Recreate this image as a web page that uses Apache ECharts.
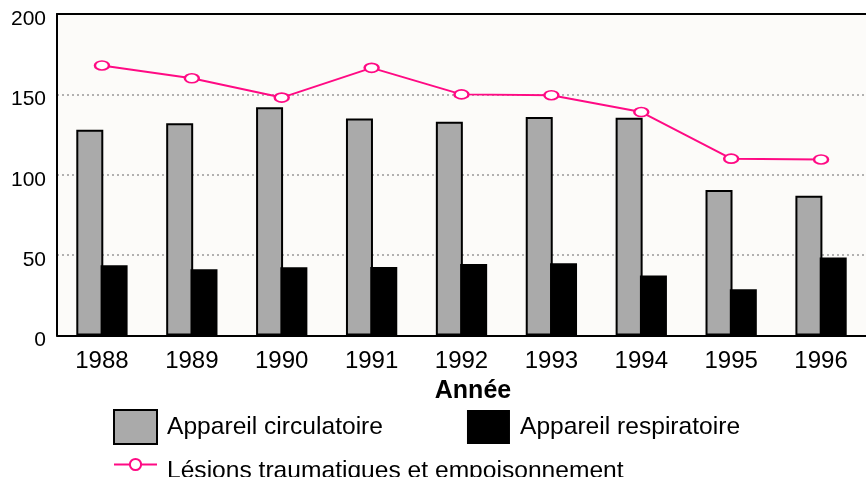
<!DOCTYPE html>
<html>
<head>
<meta charset="utf-8">
<script src="https://cdn.jsdelivr.net/npm/echarts@6/dist/echarts.min.js"></script>
<style>
  html, body { margin: 0; padding: 0; background: #fff; }
  #chart { width: 866px; height: 477px; }
</style>
</head>
<body>
<div id="chart"></div>
<script>
const years = ['1988', '1989', '1990', '1991', '1992', '1993', '1994', '1995', '1996']
const circulatoire = [128, 132, 142, 135, 133, 136, 135.5, 90.5, 87]
const respiratoire = [43.7, 41.2, 42.4, 42.6, 44.5, 45, 37.4, 28.7, 48.6]
const lesions = [168, 160, 148, 166.5, 150, 149.5, 139, 110, 109.5]

const font = 'Liberation Sans, Arial, sans-serif'
const pink = '#ff0a84'

const chart = echarts.init(document.getElementById('chart'))
chart.setOption({
  animation: false,
  backgroundColor: '#fff',
  textStyle: { fontFamily: font, color: '#000' },
  grid: {
    left: 57,
    top: 14,
    width: 816,
    bottom: 141.5,
    show: true,
    backgroundColor: '#fcfbf9',
    borderWidth: 0,
  },
  legend: [
    {
      data: [
        { name: 'Appareil circulatoire', icon: 'rect' },
        { name: 'Appareil respiratoire', icon: 'rect' },
      ],
      left: 108,
      top: 404,
      itemWidth: 43,
      itemHeight: 34,
      itemGap: 84,
      textStyle: { fontSize: 24.6, fontFamily: font, color: '#000', padding: [0, 0, 0, 5] },
    },
    {
      // texte coupé en bas comme sur l'original
      data: ['Lésions traumatiques et empoisonnement'],
      left: 113,
      top: 445,
      padding: 0,
      itemWidth: 43,
      itemHeight: 14,
      formatter: '{t|{name}}',
      textStyle: {
        rich: {
          t: { fontSize: 24.6, lineHeight: 14, fontFamily: font, color: '#000', padding: [14, 0, 0, 5] },
        },
      },
    },
  ],
  xAxis: [
    {
      type: 'category',
      data: years,
      axisLine: { lineStyle: { color: '#000', width: 2 } },
      axisTick: { show: false },
      axisLabel: { fontSize: 24, color: '#000', margin: 14, fontFamily: font },
      name: 'Année',
      nameLocation: 'middle',
      nameGap: 42,
      nameTextStyle: { fontSize: 25, fontWeight: 'bold', color: '#000', fontFamily: font, padding: [0, 0, 0, 23] },
    },
    {
      // ligne du haut du cadre
      type: 'category',
      data: years,
      position: 'top',
      axisLine: { lineStyle: { color: '#000', width: 2 } },
      axisTick: { show: false },
      axisLabel: { show: false },
    },
  ],
  yAxis: {
    type: 'value',
    min: 0,
    max: 200,
    interval: 50,
    axisLine: { show: true, lineStyle: { color: '#000', width: 2 } },
    axisTick: { show: false },
    axisLabel: {
      margin: 11,
      formatter: '{v|{value}}',
      rich: { v: { fontSize: 21, color: '#000', fontFamily: font, padding: [10, 0, 0, 0] } },
    },
    splitLine: {
      lineStyle: { color: '#999', type: [2, 3], width: 1.5 },
    },
  },
  series: [
    {
      name: 'Appareil circulatoire',
      type: 'bar',
      data: circulatoire,
      barWidth: 27,
      barGap: '-10%',
      itemStyle: { color: '#aaaaaa', borderColor: '#000', borderWidth: 2 },
    },
    {
      name: 'Appareil respiratoire',
      type: 'bar',
      data: respiratoire,
      barWidth: 27,
      itemStyle: { color: '#000' },
    },
    {
      name: 'Lésions traumatiques et empoisonnement',
      type: 'line',
      data: lesions,
      symbol: 'emptyCircle',
      symbolSize: [14, 9],
      lineStyle: { color: pink, width: 2 },
      itemStyle: { color: pink, borderColor: pink, borderWidth: 2 },
      z: 5,
    },
  ],
})
</script>
</body>
</html>
